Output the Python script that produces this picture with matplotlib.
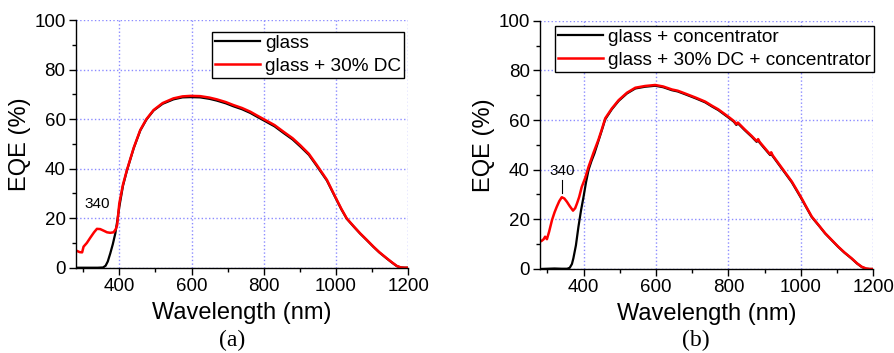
import matplotlib
matplotlib.use("Agg")
import matplotlib.pyplot as plt
from matplotlib.ticker import MultipleLocator

plt.rcParams['font.family'] = ['Liberation Sans', 'DejaVu Sans']

# ---------------- data: panel (a) ----------------
wl_a_red = [281, 290, 297, 301, 310, 320, 330, 338, 347, 356, 366, 375, 384, 390, 394, 400,
            410, 421, 440, 458, 475, 495, 520, 550, 575, 597, 624, 650, 670, 695, 716, 740,
            763, 780, 800, 830, 855, 880, 901, 925, 947, 975, 998, 1015, 1030, 1050, 1067,
            1085, 1104, 1120, 1141, 1155, 1169, 1180, 1190, 1200]
eqe_a_red = [6.9, 6.3, 6.2, 8.5, 10.0, 12.2, 14.3, 15.7, 15.6, 15.0, 14.3, 14.1, 14.3, 15.5, 17.2, 26.0,
             33.5, 39.4, 48.5, 55.6, 60.0, 63.7, 66.5, 68.4, 69.2, 69.4, 69.3, 68.7, 68.0, 66.9, 65.7, 64.5,
             63.0, 61.6, 60.0, 57.6, 54.9, 52.3, 49.5, 46.0, 41.5, 35.5, 28.7, 23.8, 19.9, 16.6, 13.9,
             11.3, 8.5, 6.3, 3.8, 2.2, 0.7, 0.1, 0.0, 0.0]
wl_a_blk = [281, 300, 320, 340, 355, 362, 368, 375, 382, 389, 395, 400, 410, 421, 440, 458, 475,
            495, 520, 550, 575, 597, 624, 650, 670, 695, 716, 740, 763, 780, 800, 830, 855, 880,
            901, 925, 947, 975, 998, 1015, 1030, 1050, 1067, 1085, 1104, 1120, 1141, 1155, 1169,
            1180, 1190, 1200]
eqe_a_blk = [0.0, 0.0, 0.0, 0.0, 0.1, 0.8, 2.5, 5.8, 9.5, 13.9, 19.5, 24.6, 33.0, 39.2, 48.3, 55.4, 59.8,
             63.5, 66.2, 68.0, 68.8, 68.9, 68.8, 68.2, 67.5, 66.4, 65.2, 64.0, 62.5, 61.1, 59.5, 57.1, 54.4, 51.8,
             49.0, 45.6, 41.1, 35.2, 28.5, 23.6, 19.8, 16.5, 13.8, 11.2, 8.4, 6.2, 3.7, 2.1, 0.6,
             0.1, 0.0, 0.0]

# ---------------- data: panel (b) ----------------
wl_b_red = [280, 285, 290, 294, 299, 305, 313, 320, 326, 333, 340, 347, 354, 362, 371, 377, 382,
            388, 395, 405, 414, 428, 441, 450, 460, 478, 497, 520, 543, 570, 598, 620, 644, 660,
            680, 710, 736, 755, 772, 786, 800, 815, 822, 826, 830, 845, 864, 878, 882, 886, 901,
            915, 918, 922, 938, 955, 975, 990, 1002, 1015, 1030, 1050, 1067, 1085, 1103, 1120,
            1140, 1155, 1168, 1180, 1190, 1200]
eqe_b_red = [11.0, 11.4, 12.0, 13.0, 12.0, 15.0, 19.7, 22.8, 25.0, 27.3, 28.9, 28.4, 27.1, 25.3, 23.5, 24.5, 26.4,
             29.0, 33.0, 36.8, 41.2, 47.0, 52.0, 56.0, 60.7, 64.6, 68.0, 71.0, 73.0, 73.7, 74.1, 73.5, 72.3, 71.8,
             70.7, 69.0, 67.4, 65.7, 64.3, 62.8, 61.3, 59.6, 58.3, 59.0, 58.4, 56.2, 53.6, 51.5, 52.3, 51.2, 48.6,
             46.2, 47.0, 45.8, 42.6, 39.2, 35.2, 31.5, 28.5, 25.0, 21.1, 17.5, 14.4, 11.7, 9.0, 6.7,
             4.3, 2.3, 0.9, 0.2, 0.0, 0.0]
wl_b_blk = [280, 300, 320, 340, 355, 362, 368, 372, 379, 386, 393, 400, 407, 414, 422, 430, 441, 450,
            460, 478, 497, 520, 543, 570, 598, 620, 644, 660, 680, 710, 736, 755, 772, 786, 800,
            815, 822, 826, 830, 845, 864, 878, 882, 886, 901, 915, 918, 922, 938, 955, 975, 990,
            1002, 1015, 1030, 1050, 1067, 1085, 1103, 1120, 1140, 1155, 1168, 1180, 1190, 1200]
eqe_b_blk = [0.0, 0.1, 0.2, 0.1, 0.1, 0.5, 2.0, 4.3, 9.5, 17.0, 23.5, 29.0, 35.0, 40.0, 43.5, 46.5, 51.5, 55.6,
             60.3, 64.3, 67.7, 70.7, 72.7, 73.4, 73.8, 73.2, 72.0, 71.5, 70.4, 68.7, 67.1, 65.4, 64.0, 62.5, 61.0,
             59.3, 58.0, 58.7, 58.1, 55.9, 53.3, 51.2, 52.0, 50.9, 48.3, 45.9, 46.7, 45.5, 42.3, 38.9, 34.9, 31.2,
             28.2, 24.8, 20.9, 17.4, 14.3, 11.6, 8.9, 6.6, 4.2, 2.2, 0.8, 0.1, 0.0, 0.0]

labels_a = ['glass', 'glass + 30% DC']
labels_b = ['glass + concentrator', 'glass + 30% DC + concentrator']
peak_label = '340'

fig = plt.figure(figsize=(8.95, 3.53), dpi=100)
ax_a = fig.add_axes([0.0849, 0.2416, 0.3711, 0.7014])
ax_b = fig.add_axes([0.6034, 0.2380, 0.3724, 0.7034])

grid_col = '#8c8cff'

def style(ax):
    ax.set_xlim(280, 1200)
    ax.set_ylim(0, 100)
    ax.xaxis.set_major_locator(MultipleLocator(200))
    ax.xaxis.set_minor_locator(MultipleLocator(100))
    ax.yaxis.set_major_locator(MultipleLocator(20))
    ax.yaxis.set_minor_locator(MultipleLocator(10))
    for s in ['top', 'right']:
        ax.spines[s].set_visible(False)
    for s in ['left', 'bottom']:
        ax.spines[s].set_linewidth(1.0)
    ax.tick_params(which='major', direction='out', length=5, width=1.0, labelsize=13.5, pad=2.5)
    ax.tick_params(which='minor', direction='out', length=3, width=1.0)
    ax.grid(True, which='major', color=grid_col, linestyle=':', linewidth=1.0)
    ax.set_axisbelow(True)
    ax.set_xlabel('Wavelength (nm)', fontsize=17, labelpad=5)
    ax.set_ylabel('EQE (%)', fontsize=17, labelpad=2)

style(ax_a)
style(ax_b)

ax_a.plot(wl_a_blk, eqe_a_blk, color='black', lw=1.6, label=labels_a[0])
ax_a.plot(wl_a_red, eqe_a_red, color='#ff0000', lw=1.8, label=labels_a[1])
ax_b.plot(wl_b_blk, eqe_b_blk, color='black', lw=1.6, label=labels_b[0])
ax_b.plot(wl_b_red, eqe_b_red, color='#ff0000', lw=1.8, label=labels_b[1])

for ax, anchor in [(ax_a, (0.988, 0.953)), (ax_b, (1.002, 0.98))]:
    leg = ax.legend(loc='upper right', bbox_to_anchor=anchor, fontsize=13.7, frameon=True, fancybox=False,
                    handlelength=2.4, handletextpad=0.25, borderpad=0.15, labelspacing=0.3,
                    borderaxespad=0.0)
    leg.get_frame().set_edgecolor('black')
    leg.get_frame().set_linewidth(1.0)
    leg.get_frame().set_alpha(1)

ax_a.text(340, 25.7, peak_label, fontsize=11, ha='center', va='center')
ax_b.text(340, 39.5, peak_label, fontsize=11, ha='center', va='center')
ax_b.plot([340, 340], [30.8, 35.8], color='black', lw=0.8)

fig.text(0.259, 0.036, '(a)', fontsize=17, family='Liberation Serif', ha='center', va='center')
fig.text(0.777, 0.036, '(b)', fontsize=17, family='Liberation Serif', ha='center', va='center')

fig.savefig('out.png', dpi=100)
